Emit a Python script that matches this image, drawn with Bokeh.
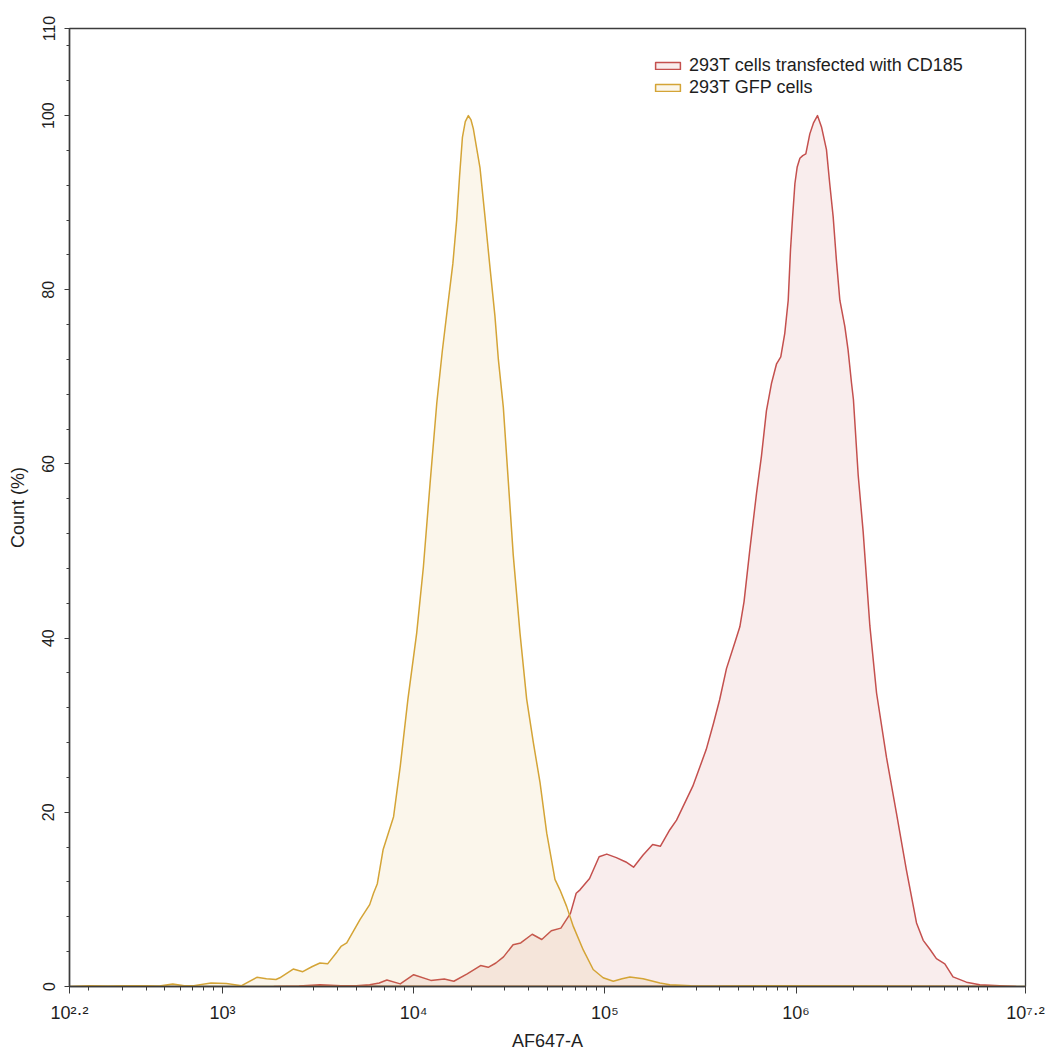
from bokeh.plotting import figure
from bokeh.models import (Range1d, FixedTicker, Legend, LegendItem,
                          CustomJSTickFormatter)
from bokeh.embed import file_html
from bokeh.resources import INLINE

# ---------------- data ----------------
x_tick_exps = [2.2, 3, 4, 5, 6, 7.2]
x_tick_exp_labels = ["2.2", "3", "4", "5", "6", "7.2"]
y_tick_values = [0, 20, 40, 60, 80, 100, 110]
y_minor_values = list(range(0, 112, 4))

x_title = "AF647-A"
y_title = "Count (%)"
cd185_name = "293T cells transfected with CD185"
gfp_name = "293T GFP cells"

# log10 of AF647-A intensity, and Count (%)
cd185_log = [3.27, 3.40, 3.51, 3.62, 3.70, 3.77, 3.82, 3.86, 3.93, 4.00,
             4.09, 4.16, 4.21, 4.28, 4.35, 4.39, 4.43, 4.47, 4.52, 4.56,
             4.62, 4.67, 4.72, 4.77, 4.82, 4.85, 4.87, 4.92, 4.97, 5.01,
             5.06, 5.11, 5.15, 5.20, 5.25, 5.29, 5.34, 5.375, 5.46, 5.53,
             5.568, 5.60, 5.636, 5.68, 5.706, 5.728, 5.758, 5.793, 5.819, 5.845,
             5.872, 5.898, 5.920, 5.941, 5.959, 5.971, 5.982, 5.994, 6.006, 6.020,
             6.035, 6.051, 6.072, 6.092, 6.112, 6.133, 6.159, 6.176, 6.194, 6.211,
             6.229, 6.255, 6.272, 6.290, 6.300, 6.325, 6.351, 6.386, 6.421, 6.473,
             6.525, 6.577, 6.630, 6.665, 6.699, 6.734, 6.778, 6.821, 6.891, 6.961,
             7.065, 7.15]
cd185_pct = [0.0, 0.05, 0.2, 0.1, 0.1, 0.2, 0.4, 0.75, 0.3, 1.35,
             0.7, 0.85, 0.6, 1.45, 2.4, 2.2, 2.7, 3.4, 4.8, 5.0,
             6.0, 5.4, 6.4, 6.7, 8.4, 10.7, 11.1, 12.4, 14.9, 15.2,
             14.8, 14.3, 13.7, 15.1, 16.3, 16.1, 18.0, 19.1, 23.0, 27.2,
             30.2, 32.9, 36.5, 39.5, 41.3, 44.2, 50.1, 56.6, 60.9, 66.1,
             69.3, 71.5, 72.3, 75.0, 78.8, 84.6, 88.4, 92.2, 94.1, 95.1,
             95.4, 95.6, 97.9, 99.2, 100.0, 98.7, 96.1, 92.2, 88.4, 83.4,
             78.8, 75.8, 73.1, 69.3, 67.4, 58.7, 52.2, 41.4, 33.7, 26.3,
             19.9, 13.4, 7.3, 5.3, 4.3, 3.2, 2.6, 1.1, 0.5, 0.2,
             0.1, 0.0]

gfp_log = [2.20, 2.30, 2.40, 2.50, 2.60, 2.67, 2.74, 2.80, 2.85, 2.94,
           3.02, 3.10, 3.18, 3.23, 3.28, 3.30, 3.37, 3.42, 3.47, 3.51,
           3.55, 3.60, 3.62, 3.65, 3.72, 3.77, 3.79, 3.81, 3.84, 3.895,
           3.93, 3.97, 4.016, 4.051, 4.086, 4.121, 4.150, 4.180, 4.205, 4.225,
           4.240, 4.255, 4.270, 4.286, 4.300, 4.312, 4.347, 4.373, 4.399, 4.425,
           4.443, 4.469, 4.495, 4.521, 4.556, 4.591, 4.626, 4.661, 4.696, 4.739,
           4.765, 4.800, 4.835, 4.887, 4.939, 4.991, 5.044, 5.090, 5.131, 5.200,
           5.288, 5.340, 5.450, 5.600, 5.900, 6.400, 7.200]
gfp_pct = [0.0, 0.1, 0.05, 0.1, 0.1, 0.05, 0.3, 0.1, 0.1, 0.4,
           0.35, 0.1, 1.05, 0.9, 0.8, 1.0, 2.0, 1.7, 2.3, 2.7,
           2.6, 4.0, 4.6, 5.0, 7.7, 9.4, 10.7, 11.8, 15.7, 19.5,
           25.3, 33.0, 40.6, 48.2, 57.8, 67.0, 73.0, 78.5, 83.0, 88.0,
           93.0, 97.5, 99.3, 100.0, 99.5, 98.5, 94.0, 88.4, 82.6, 77.0,
           72.0, 66.5, 58.0, 49.5, 40.6, 33.0, 28.0, 23.4, 17.6, 12.3,
           11.1, 9.2, 6.9, 4.2, 1.95, 1.0, 0.6, 0.9, 1.1, 0.9,
           0.4, 0.2, 0.1, 0.05, 0.1, 0.05, 0.0]

# ---------------- styles ----------------
FONT = "Liberation Sans"
RED = "#c4504e"
GOLD = "#d4a436"
AXIS = "#3c3c3c"
TEXT = "#1e1e1e"

x_lo, x_hi = 10 ** x_tick_exps[0], 10 ** x_tick_exps[-1]

p = figure(frame_width=956, frame_height=958,
           x_axis_type="log",
           x_range=Range1d(x_lo, x_hi), y_range=Range1d(0, 110),
           output_backend="svg", toolbar_location=None,
           min_border_left=69, min_border_right=20,
           min_border_top=28, min_border_bottom=62)

p.xgrid.visible = False
p.ygrid.visible = False
p.outline_line_color = AXIS
p.outline_line_width = 1.3
p.background_fill_color = "white"
p.border_fill_color = "white"


def closed(logs, pcts):
    xs = [10 ** v for v in logs]
    return [xs[0]] + xs + [xs[-1]], [0.0] + list(pcts) + [0.0]


rx, ry = closed(cd185_log, cd185_pct)
gx, gy = closed(gfp_log, gfp_pct)

r_red = p.patch(rx, ry, fill_color=RED, fill_alpha=0.1,
                line_color=RED, line_width=1.5, line_join="round")
r_gold = p.patch(gx, gy, fill_color=GOLD, fill_alpha=0.1,
                 line_color=GOLD, line_width=1.5, line_join="round")

# ---------------- axes ----------------
major_x = [10 ** e for e in x_tick_exps]
minor_x = [m * 10 ** d for d in range(2, 8) for m in range(1, 10)
           if x_lo <= m * 10 ** d <= x_hi]
xa = p.xaxis[0]
xa.ticker = FixedTicker(ticks=major_x, minor_ticks=minor_x)
xa.formatter = CustomJSTickFormatter(
    args=dict(exps=x_tick_exps, labels=x_tick_exp_labels),
    code="""
const sup = {"0": "\u2070", "1": "\u00b9", "2": "\u00b2", "3": "\u00b3",
             "4": "\u2074", "5": "\u2075", "6": "\u2076", "7": "\u2077",
             "8": "\u2078", "9": "\u2079", ".": "\u00b7"};
const e = Math.log10(tick);
let best = 0;
for (let i = 0; i < exps.length; i++) {
  if (Math.abs(exps[i] - e) < Math.abs(exps[best] - e)) best = i;
}
return "10" + labels[best].split("").map(c => sup[c]).join("");
""")
xa.axis_line_color = AXIS
xa.axis_line_width = 1.5
xa.major_tick_line_color = AXIS
xa.minor_tick_line_color = AXIS
xa.major_tick_out = 7
xa.major_tick_in = 0
xa.minor_tick_out = 4
xa.minor_tick_in = 0
xa.major_label_text_font = FONT
xa.major_label_text_font_size = "18px"
xa.major_label_text_color = TEXT
xa.major_label_standoff = 9
xa.axis_label = x_title
xa.axis_label_text_font = FONT
xa.axis_label_text_font_size = "18px"
xa.axis_label_text_font_style = "normal"
xa.axis_label_text_color = TEXT
xa.axis_label_standoff = 5

ya = p.yaxis[0]
ya.ticker = FixedTicker(ticks=y_tick_values, minor_ticks=y_minor_values)
ya.axis_line_color = AXIS
ya.axis_line_width = 1.5
ya.major_tick_line_color = AXIS
ya.minor_tick_line_color = AXIS
ya.major_tick_out = 5
ya.major_tick_in = 0
ya.minor_tick_out = 3
ya.minor_tick_in = 0
ya.major_label_orientation = "vertical"
ya.major_label_text_font = FONT
ya.major_label_text_font_size = "16px"
ya.major_label_text_color = TEXT
ya.major_label_standoff = 10
ya.axis_label = y_title
ya.axis_label_text_font = FONT
ya.axis_label_text_font_size = "18px"
ya.axis_label_text_font_style = "normal"
ya.axis_label_text_color = TEXT
ya.axis_label_standoff = 12

# ---------------- legend ----------------
legend = Legend(items=[LegendItem(label=cd185_name, renderers=[r_red]),
                       LegendItem(label=gfp_name, renderers=[r_gold])],
                location=(583, 888),
                padding=0, margin=0, spacing=1,
                glyph_width=31, glyph_height=9, label_standoff=6,
                label_height=20,
                label_text_font=FONT, label_text_font_size="18px",
                label_text_color=TEXT,
                border_line_alpha=0, background_fill_alpha=0)
p.add_layout(legend)

open("out.html", "w").write(file_html(p, INLINE))
